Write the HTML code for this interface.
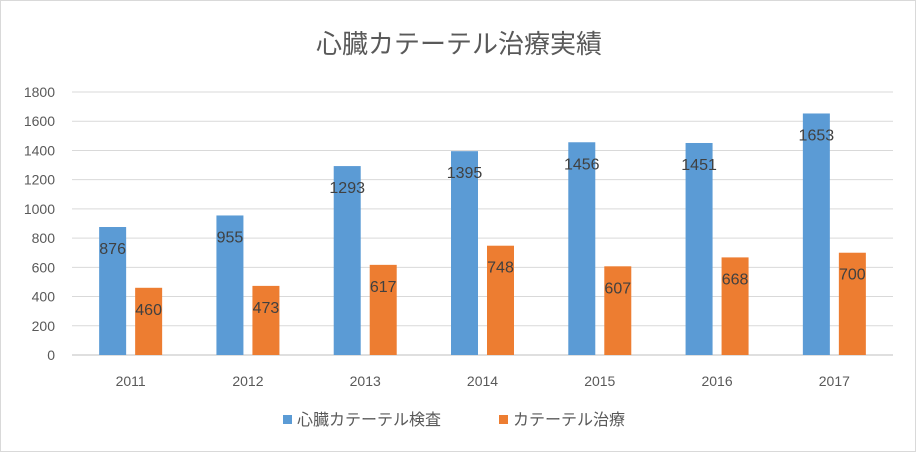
<!DOCTYPE html>
<html><head><meta charset="utf-8"><style>
body{margin:0;background:#fff;}
#wrap{position:relative;width:916px;height:452px;box-sizing:border-box;border:1px solid #d9d9d9;background:#fff;font-family:"Liberation Sans","Noto Sans CJK JP",sans-serif;}
</style></head><body>
<div id="wrap">
<svg id="chart" width="916" height="452" style="position:absolute;left:0;top:0"></svg>
</div>
<script>
const categories=["2011","2012","2013","2014","2015","2016","2017"];
const examValues=[876,955,1293,1395,1456,1451,1653];
const treatValues=[460,473,617,748,607,668,700];
const yTicks=[0,200,400,600,800,1000,1200,1400,1600,1800];
const seriesNames=["心臓カテーテル検査","カテーテル治療"];
const NS="http://www.w3.org/2000/svg";
const svg=document.getElementById('chart');
const plotL=71,plotR=892,y0=354,yTop=91,yMax=1800;
const yS=v=>y0-(v/yMax)*(y0-yTop);
const bandW=(plotR-plotL)/categories.length;
const xC=i=>plotL+bandW*(i+0.5);
function mk(tag,attrs,txt){const e=document.createElementNS(NS,tag);for(const k in attrs)e.setAttribute(k,attrs[k]);if(txt!==undefined)e.textContent=txt;svg.appendChild(e);return e;}
let t=mk('text',{x:458,y:52,'text-anchor':'middle','font-size':26,fill:'#595959'},"心臓カテーテル治療実績");


yTicks.forEach(v=>{
  const l=mk('line',{x1:plotL,x2:plotR,y1:yS(v),y2:yS(v),stroke:v===0?'#bfbfbf':'#d9d9d9','stroke-width':1});
  
  
  const tx=mk('text',{x:54,y:yS(v)+5,'text-anchor':'end','font-size':14,fill:'#595959'},String(v));
  
  
});
const bw=27;
categories.forEach((c,i)=>{
  const cx=xC(i);
  const tx=mk('text',{x:cx,y:385,'text-anchor':'middle','font-size':14,fill:'#595959'},c);
  
  
  [[examValues,'#5b9bd5',-bw/2-4.5,'exam'],[treatValues,'#ed7d31',bw/2+4.5,'treat']].forEach(([arr,col,off,nm])=>{
    const v=arr[i],bx=cx+off-bw/2;
    const r=mk('rect',{x:bx,y:yS(v),width:bw,height:y0-yS(v),fill:col});
    
    
    const lb=mk('text',{x:cx+off,y:yS(v)+27,'text-anchor':'middle','font-size':16,fill:'#404040'},String(v));
    
    
  });
});
const legX=[282,498],legCol=['#5b9bd5','#ed7d31'];
seriesNames.forEach((n,i)=>{
  const r=mk('rect',{x:legX[i],y:414,width:9,height:9,fill:legCol[i]});
  
  
  const tx=mk('text',{x:legX[i]+14,y:424,'font-size':16,fill:'#595959'},n);
  
  
});
</script>
</body></html>
